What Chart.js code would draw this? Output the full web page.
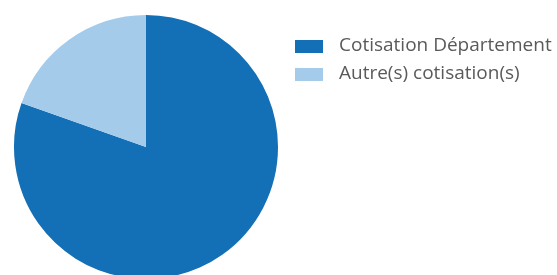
<!DOCTYPE html>
<html>
<head>
<meta charset="utf-8">
<script src="https://cdn.jsdelivr.net/npm/chart.js@4"></script>
<style>
  html, body { margin: 0; padding: 0; background: #fff; overflow: hidden; }
  #wrap { position: relative; width: 557px; height: 290px; }
</style>
</head>
<body>
<div id="wrap"><canvas id="chart"></canvas></div>
<script>
const labels = ["Cotisation Département", "Autre(s) cotisation(s)"];
const values = [80.4, 19.6];
const colors = ["#136fb6", "#a5cbeb"];

// legend drawn beside the pie
const sideLegend = {
  id: "sideLegend",
  afterDraw(chart) {
    const ctx = chart.ctx;
    const ds = chart.data.datasets[0];
    ctx.save();
    ctx.font = "19px 'Open Sans'";
    ctx.textBaseline = "alphabetic";
    chart.data.labels.forEach((lab, i) => {
      const top = 40 + i * 28;
      ctx.fillStyle = ds.backgroundColor[i];
      ctx.fillRect(295, top, 28, 13);
      ctx.fillStyle = "#5a5a5a";
      ctx.fillText(lab, 339, top + 11);
    });
    ctx.restore();
  },
};

new Chart(document.getElementById("chart"), {
  type: "pie",
  data: {
    labels: labels,
    datasets: [{ data: values, backgroundColor: colors, borderWidth: 0 }],
  },
  options: {
    responsive: true,
    maintainAspectRatio: false,
    animation: false,
    layout: { padding: { left: 14, top: 15, right: 279, bottom: 11 } },
    plugins: { legend: { display: false }, tooltip: { enabled: false } },
  },
  plugins: [sideLegend],
});
</script>
</body>
</html>
